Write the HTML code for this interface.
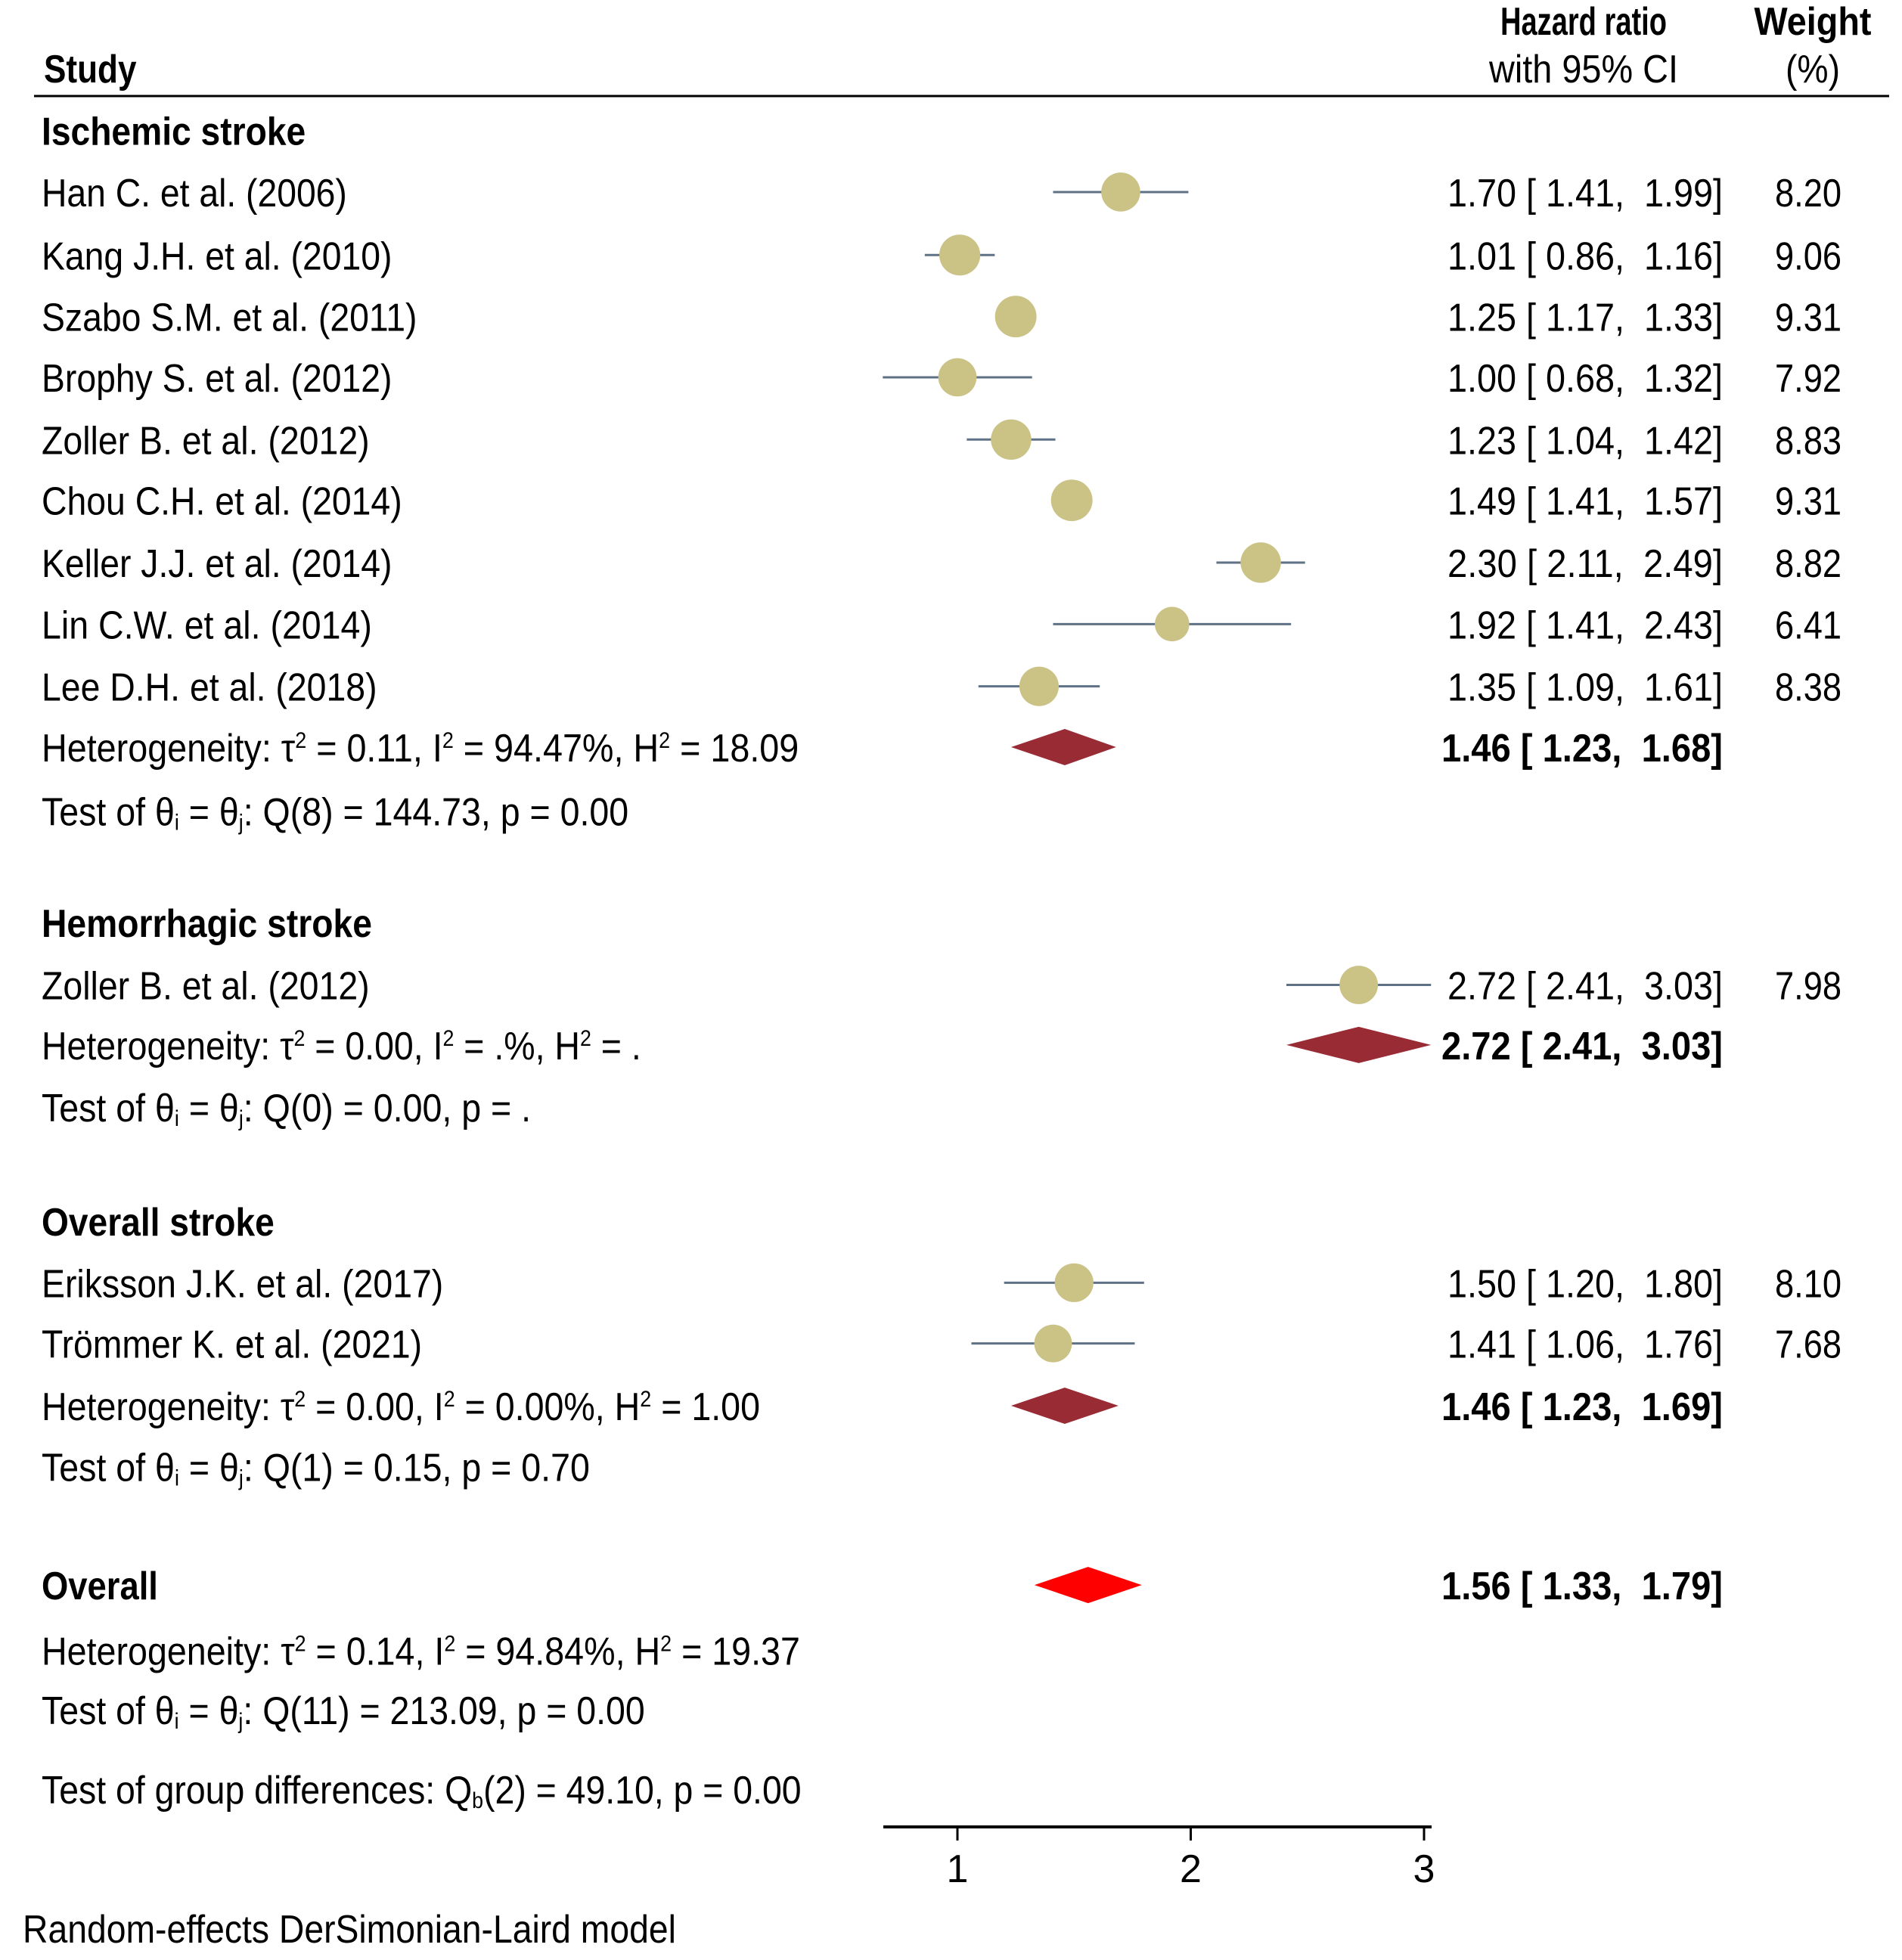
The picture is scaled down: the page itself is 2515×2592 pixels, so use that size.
<!DOCTYPE html>
<html><head><meta charset="utf-8"><style>
html,body{margin:0;padding:0;background:#fff}
svg{display:block}
text{font-family:"Liberation Sans",Arial,sans-serif;fill:#000;white-space:pre}
</style></head><body>
<svg id="plot" width="2515" height="2592" viewBox="0 0 2515 2592" xmlns="http://www.w3.org/2000/svg"></svg>
<script>
// ---- data ----
const studyLabels=["Han C. et al. (2006)","Kang J.H. et al. (2010)","Szabo S.M. et al. (2011)","Brophy S. et al. (2012)","Zoller B. et al. (2012)","Chou C.H. et al. (2014)","Keller J.J. et al. (2014)","Lin C.W. et al. (2014)","Lee D.H. et al. (2018)","Zoller B. et al. (2012)","Eriksson J.K. et al. (2017)","Trömmer K. et al. (2021)"];
const studyHR=[1.70,1.01,1.25,1.00,1.23,1.49,2.30,1.92,1.35,2.72,1.50,1.41];
const studyLo=[1.41,0.86,1.17,0.68,1.04,1.41,2.11,1.41,1.09,2.41,1.20,1.06];
const studyHi=[1.99,1.16,1.33,1.32,1.42,1.57,2.49,2.43,1.61,3.03,1.80,1.76];
const studyWeight=["8.20","9.06","9.31","7.92","8.83","9.31","8.82","6.41","8.38","7.98","8.10","7.68"];
const studyRowY=[256,340,422,503,586,667,750,832,915,1313,1710,1791];
const studyEndX=[277,313,333,313,295,321,313,297,301,295,354,337];
const poolHR=[1.46,2.72,1.46,1.56];
const poolLo=[1.23,2.41,1.23,1.33];
const poolHi=[1.68,3.03,1.69,1.79];
const poolRowY=[996,1393,1874,2113];
const xTicks=[1,2,3];
const xTickLabels=["1","2","3"];

const NS="http://www.w3.org/2000/svg";
const svg=document.getElementById('plot');
const X0=1266, XU=308.5;
function xs(v){return X0+(v-1)*XU;}
function ys(y){return y*0.992;}
const FS=52, K=1.655, LX=55;
function el(tag,attrs,parent){const e=document.createElementNS(NS,tag);for(const k in attrs)e.setAttribute(k,attrs[k]);(parent||svg).appendChild(e);return e;}
function txt(content,x,y,opts){
  opts=opts||{};
  const t=el('text',{x:x,y:y+19,'font-size':opts.fs||FS});
  if(opts.bold)t.setAttribute('font-weight','bold');
  if(opts.anchor)t.setAttribute('text-anchor',opts.anchor);
  if(opts.len){t.setAttribute('textLength',opts.len);t.setAttribute('lengthAdjust','spacingAndGlyphs');}
  if(opts.html)t.innerHTML=content;else t.textContent=content;
  return t;
}
function fmt(v){return v.toFixed(2);}
function ciStr(h,l,u){return fmt(h)+" [ "+fmt(l)+",  "+fmt(u)+"]";}

let t;
t=txt("Hazard ratio",2094,27,{bold:true,anchor:'middle',len:220});


t=txt("Weight",2397,27,{bold:true,anchor:'middle',len:155});


t=txt("Study",58,90,{bold:true,len:(109-35)*K});


t=txt("with 95% CI",2094,90,{anchor:'middle',len:250});


t=txt("(%)",2397,90,{anchor:'middle',len:72});


let ln=el('line',{x1:45,y1:127,x2:2498,y2:127,stroke:'#000','stroke-width':3});



const heads=[["Ischemic stroke",174,244],["Hemorrhagic stroke",1230,297],["Overall stroke",1628,219],["Overall",2113,126]];
heads.forEach(h=>{const e=txt(h[0],LX,ys(h[1]),{bold:true,len:(h[2]-33)*K});

});

const sup=s=>'<tspan baseline-shift="60%" font-size="30">'+s+'</tspan>';
const sub=s=>'<tspan baseline-shift="-20%" font-size="30">'+s+'</tspan>';
const stats=[
 ["Heterogeneity: τ"+sup(2)+" = 0.11, I"+sup(2)+" = 94.47%, H"+sup(2)+" = 18.09",996,638],
 ["Test of θ"+sub('i')+" = θ"+sub('j')+": Q(8) = 144.73, p = 0.00",1081,502],
 ["Heterogeneity: τ"+sup(2)+" = 0.00, I"+sup(2)+" = .%, H"+sup(2)+" = .",1393,512],
 ["Test of θ"+sub('i')+" = θ"+sub('j')+": Q(0) = 0.00, p = .",1476,424],
 ["Heterogeneity: τ"+sup(2)+" = 0.00, I"+sup(2)+" = 0.00%, H"+sup(2)+" = 1.00",1874,607],
 ["Test of θ"+sub('i')+" = θ"+sub('j')+": Q(1) = 0.15, p = 0.70",1955,471],
 ["Heterogeneity: τ"+sup(2)+" = 0.14, I"+sup(2)+" = 94.84%, H"+sup(2)+" = 19.37",2200,639],
 ["Test of θ"+sub('i')+" = θ"+sub('j')+": Q(11) = 213.09, p = 0.00",2279,515],
 ["Test of group differences: Q"+sub('b')+"(2) = 49.10, p = 0.00",2385,640]
];
stats.forEach(s=>{const e=txt(s[0],LX,ys(s[1]),{html:true,len:(s[2]-33)*K});

});

for(let i=0;i<studyLabels.length;i++){
  const y=ys(studyRowY[i]);
  let e=txt(studyLabels[i],LX,y,{len:(studyEndX[i]-33)*K});
  
  
  const l=el('line',{x1:xs(studyLo[i]),y1:y,x2:xs(studyHi[i]),y2:y,stroke:'#5f7285','stroke-width':3});
  
  
  const c=el('circle',{cx:xs(studyHR[i]),cy:y,r:9*Math.sqrt(parseFloat(studyWeight[i])),fill:'#cbc286'});
  
  
  e=txt(ciStr(studyHR[i],studyLo[i],studyHi[i]),2278,y,{anchor:'end',len:364});
  
  
  e=txt(studyWeight[i],2435,y,{anchor:'end',len:88});
  
  
}

for(let i=0;i<poolHR.length;i++){
  const y=ys(poolRowY[i]), h=24;
  const d=el('polygon',{points:xs(poolLo[i])+","+y+" "+xs(poolHR[i])+","+(y-h)+" "+xs(poolHi[i])+","+y+" "+xs(poolHR[i])+","+(y+h),fill:i===3?'#ff0000':'#992b35'});
  
  
  const e=txt(ciStr(poolHR[i],poolLo[i],poolHi[i]),2278,y,{anchor:'end',bold:true,len:372});
  
  
}

const ay=2416;
ln=el('line',{x1:1168,y1:ay,x2:1893,y2:ay,stroke:'#000','stroke-width':4});


xTicks.forEach((v,i)=>{
  const tk=el('line',{x1:xs(v),y1:ay,x2:xs(v),y2:ay+18,stroke:'#000','stroke-width':3});
  
  
  const e=txt(xTickLabels[i],xs(v),2470,{anchor:'middle'});
  
  
});

t=txt("Random-effects DerSimonian-Laird model",30,2550,{len:(540-18)*K});


</script>
</body></html>
